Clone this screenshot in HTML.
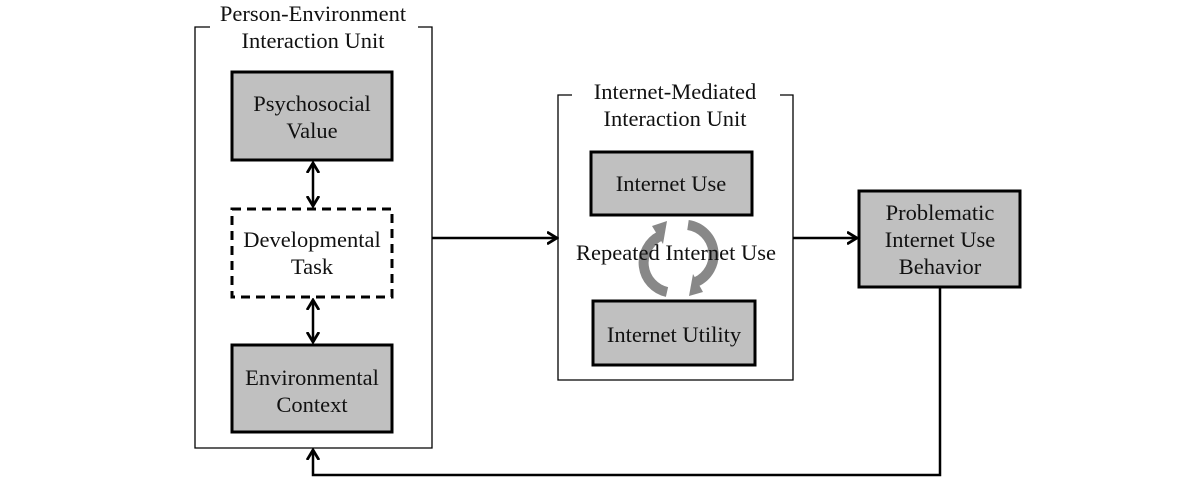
<!DOCTYPE html>
<html><head><style>
body{margin:0;background:#fff;}
svg text{font-family:"Liberation Serif",serif;font-size:22.5px;fill:#111;}
</style></head><body>
<svg width="1200" height="488" viewBox="0 0 1200 488" xmlns="http://www.w3.org/2000/svg">
<defs>
<marker id="a" markerWidth="12" markerHeight="14" refX="10" refY="7" orient="auto" markerUnits="userSpaceOnUse"><path d="M0,1 L10,7 L0,13" fill="none" stroke="#000" stroke-width="2.8"/></marker>
<marker id="s" markerWidth="12" markerHeight="14" refX="2" refY="7" orient="auto" markerUnits="userSpaceOnUse"><path d="M12,1 L2,7 L12,13" fill="none" stroke="#000" stroke-width="2.8"/></marker>
</defs>
<path d="M210,27 H195 V448 H432 V27 H418" fill="none" stroke="#000" stroke-width="1.3"/>
<text x="313" y="21" text-anchor="middle">Person-Environment</text>
<text x="313" y="48" text-anchor="middle">Interaction Unit</text>
<rect x="232" y="72" width="160" height="88" fill="#c0c0c0" stroke="#000" stroke-width="3"/>
<text x="312" y="111" text-anchor="middle">Psychosocial</text>
<text x="312" y="138" text-anchor="middle">Value</text>
<rect x="232" y="209" width="160" height="88" fill="#fff" stroke="#000" stroke-width="3" stroke-dasharray="9,6"/>
<text x="312" y="247" text-anchor="middle">Developmental</text>
<text x="312" y="274" text-anchor="middle">Task</text>
<rect x="232" y="345" width="160" height="87" fill="#c0c0c0" stroke="#000" stroke-width="3"/>
<text x="312" y="385" text-anchor="middle">Environmental</text>
<text x="312" y="412" text-anchor="middle">Context</text>
<line x1="313" y1="163" x2="313" y2="206" stroke="#000" stroke-width="2.5" marker-start="url(#s)" marker-end="url(#a)"/>
<line x1="313" y1="300" x2="313" y2="342" stroke="#000" stroke-width="2.5" marker-start="url(#s)" marker-end="url(#a)"/>
<path d="M572,95 H558 V380 H793 V95 H780" fill="none" stroke="#000" stroke-width="1.3"/>
<text x="675" y="99" text-anchor="middle">Internet-Mediated</text>
<text x="675" y="126" text-anchor="middle">Interaction Unit</text>
<rect x="591" y="152" width="161" height="63" fill="#c0c0c0" stroke="#000" stroke-width="3"/>
<text x="671" y="191" text-anchor="middle">Internet Use</text>
<rect x="593" y="301" width="162" height="64" fill="#c0c0c0" stroke="#000" stroke-width="3"/>
<text x="674" y="342" text-anchor="middle">Internet Utility</text>
<g fill="none" stroke="#888" stroke-width="10">
<path d="M667,292 A30,30 0 0 1 660,236"/>
<path d="M688,225 A30,30 0 0 1 696,282"/>
</g>
<polygon points="652,226 667,221 663,244" fill="#888"/>
<polygon points="703,292 689,296 693,274" fill="#888"/>
<text x="676" y="260" text-anchor="middle">Repeated Internet Use</text>
<rect x="859" y="191" width="161" height="96" fill="#c0c0c0" stroke="#000" stroke-width="3"/>
<text x="940" y="220" text-anchor="middle">Problematic</text>
<text x="940" y="247" text-anchor="middle">Internet Use</text>
<text x="940" y="274" text-anchor="middle">Behavior</text>
<line x1="432" y1="238" x2="557" y2="238" stroke="#000" stroke-width="2.5" marker-end="url(#a)"/>
<line x1="793" y1="238" x2="857" y2="238" stroke="#000" stroke-width="2.5" marker-end="url(#a)"/>
<path d="M940,287 V475 H313 V450" fill="none" stroke="#000" stroke-width="2.5" marker-end="url(#a)"/>
</svg>
</body></html>
